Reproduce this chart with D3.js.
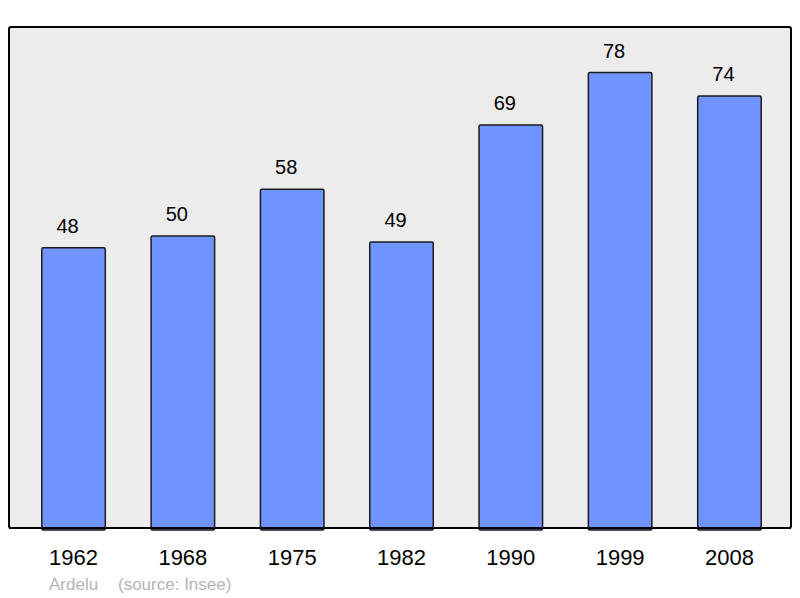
<!DOCTYPE html>
<html lang="fr">
<head>
<meta charset="UTF-8">
<title>Population</title>
<style>
body{margin:0;background:#fff;}
text{font-family:"Liberation Sans",Arial,sans-serif;}
</style>
</head>
<body>
<div class="chart"></div>
<script src="https://d3js.org/d3.v7.min.js"></script>
<script>
var years = ['1962','1968','1975','1982','1990','1999','2008'];
var population = [48, 50, 58, 49, 69, 78, 74];
var credits = ['Ardelu', '(source: Insee)'];

var W = 800, H = 598;
var panel = {left: 9, top: 27, right: 791, bottom: 528};

var svg = d3.select('.chart')
	.append('svg')
	.attr('width', W)
	.attr('height', H);

svg.append('rect')
	.attr('x', panel.left)
	.attr('y', panel.top)
	.attr('width', panel.right - panel.left)
	.attr('height', panel.bottom - panel.top)
	.attr('rx', 2)
	.style('fill', '#ececec')
	.style('stroke', '#000')
	.style('stroke-width', 2);

var x = d3.scaleBand()
	.domain(years)
	.range([panel.left, 794])
	.paddingInner(0.419)
	.paddingOuter(0.3);

var y = d3.scaleLinear()
	.domain([0, d3.max(population) * 1.1])
	.range([panel.bottom, panel.top]);

var g = svg.append('g');

g.selectAll('rect.bar')
	.data(population)
	.enter().append('rect')
	.attr('class', 'bar')
	.attr('x', function(d, i){ return x(years[i]); })
	.attr('y', function(d){ return y(d); })
	.attr('width', x.bandwidth())
	.attr('height', function(d){ return y(0) - y(d) + 2; })
	.attr('rx', 1.5)
	.style('fill', '#7094ff')
	.style('stroke', '#1a1a1a')
	.style('stroke-width', 1.5);

// labels sit a little left of the bar centre, as in the original
g.selectAll('text.val')
	.data(population)
	.enter().append('text')
	.attr('class', 'val')
	.attr('x', function(d, i){ return x(years[i]) + x.bandwidth() / 2 - 6; })
	.attr('y', function(d){ return y(d) - 15; })
	.attr('text-anchor', 'middle')
	.style('font-size', '20px')
	.style('fill', '#000')
	.text(function(d){ return d; });

svg.append('line')
	.attr('x1', panel.left)
	.attr('x2', panel.right)
	.attr('y1', panel.bottom)
	.attr('y2', panel.bottom)
	.style('stroke', '#000')
	.style('stroke-width', 2);

var xAxis = d3.axisBottom(x).tickSize(0).tickPadding(0);
var ax = svg.append('g')
	.attr('transform', 'translate(0,' + panel.bottom + ')')
	.call(xAxis);
ax.select('.domain').remove();
ax.selectAll('text')
	.attr('dy', null)
	.attr('y', 37)
	.style('font-size', '22px')
	.style('font-family', '"Liberation Sans",Arial,sans-serif')
	.style('fill', '#000');

svg.append('text')
	.attr('x', 49)
	.attr('y', 590)
	.style('font-size', '17px')
	.style('fill', '#b4b4b4')
	.text(credits[0]);
svg.append('text')
	.attr('x', 118)
	.attr('y', 590)
	.style('font-size', '17px')
	.style('fill', '#b4b4b4')
	.text(credits[1]);
</script>
</body>
</html>
